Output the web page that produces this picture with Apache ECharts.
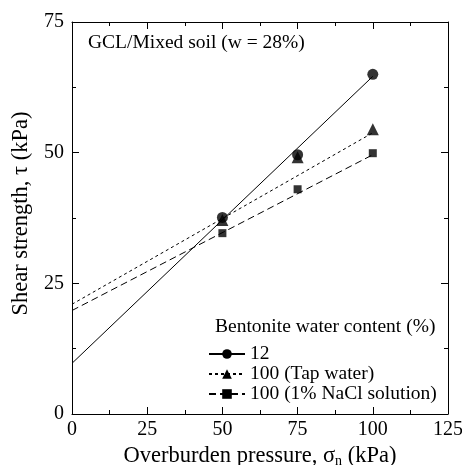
<!DOCTYPE html>
<html><head><meta charset="utf-8">
<script src="https://cdn.jsdelivr.net/npm/echarts@6/dist/echarts.min.js"></script>
<style>html,body{margin:0;padding:0;background:#fff}#c{width:462px;height:465px}</style>
</head><body><div id="c"></div>
<script>
var pressures = [50, 75, 100];
var tau12 = [37.6, 49.6, 65.0];
var tauTap = [37.1, 49.1, 54.5];
var tauNaCl = [34.6, 43.0, 49.9];
var fitX = [0, 100];
var fit12 = [9.7, 64.6];
var fitTap = [21.0, 53.8];
var fitNaCl = [19.8, 49.6];
var xTicks = [0, 25, 50, 75, 100, 125];
var yTicks = [0, 25, 50, 75];
var names = ['12', '100 (Tap water)', '100 (1% NaCl solution)'];

function pts(xs, ys){ return xs.map(function(x,i){ return [x, ys[i]]; }); }
function fitData(ys){ return fitX.map(function(x,i){ return {value:[x, ys[i]], symbol:'none'}; }); }

var FONT = 'Liberation Serif';
var chart = echarts.init(document.getElementById('c'));
var axisCommon = {
  min: 0, interval: 25,
  axisLine: {show:true, onZero:false, lineStyle:{color:'#000', width:1}},
  axisTick: {show:true, inside:true, length:7, lineStyle:{color:'#000'}},
  minorTick: {show:true, splitNumber:2, length:4, lineStyle:{color:'#000'}},
  splitLine: {show:false}
};
function ax(extra){ return Object.assign({}, JSON.parse(JSON.stringify(axisCommon)), extra); }

chart.setOption({
  animation: false,
  backgroundColor: '#fff',
  grid: {left:72, right:14, top:22, bottom:51, containLabel:false, outerBoundsMode:'none'},
  xAxis: [
    ax({type:'value', max:125, position:'bottom',
      name:'{s|Overburden pressure, σ}{sub|n}{s| (kPa)}', nameLocation:'middle', nameGap:29,
      nameTextStyle:{fontFamily:FONT, fontSize:22.5, color:'#000',
        rich:{s:{fontFamily:FONT,fontSize:22.5,color:'#000'}, sub:{fontFamily:FONT,fontSize:14,color:'#000',padding:[9,0,0,0]}}},
      axisLabel:{fontFamily:FONT, fontSize:20, color:'#000', margin:6,
        formatter:function(v){ return xTicks.indexOf(v)>=0 ? String(v) : ''; }}}),
    ax({type:'value', max:125, position:'top', axisLabel:{show:false}})
  ],
  yAxis: [
    ax({type:'value', max:75, position:'left',
      name:'Shear strength, τ (kPa)', nameLocation:'middle', nameGap:39,
      nameTextStyle:{fontFamily:FONT, fontSize:22.5, color:'#000', padding:[0,0,0,9]},
      axisLabel:{fontFamily:FONT, fontSize:20, color:'#000', margin:8,
        formatter:function(v){ return yTicks.indexOf(v)>=0 ? String(v) : ''; }}}),
    ax({type:'value', max:75, position:'right', axisLabel:{show:false}})
  ],
  legend: {
    data: names,
    orient: 'vertical',
    left: 203, top: 339,
    itemWidth: 36, itemHeight: 12, itemGap: 0,
    textStyle: {fontFamily:FONT, fontSize:19.5, color:'#000', padding:[0,0,0,0]},
    inactiveColor: '#000'
  },
  graphic: [
    {type:'text', left:88, top:33, style:{text:'GCL/Mixed soil (w = 28%)', font:'19.5px "Liberation Serif"', fill:'#000'}},
    {type:'text', left:215, top:317, style:{text:'Bentonite water content (%)', font:'19.5px "Liberation Serif"', fill:'#000'}}
  ],
  series: [
    {name:names[0], type:'line', data:fitData(fit12), symbol:'circle', symbolSize:11, itemStyle:{color:'#000'},
      lineStyle:{color:'#000', width:1, type:'solid'}},
    {name:names[1], type:'line', data:fitData(fitTap), symbol:'triangle', symbolSize:12, itemStyle:{color:'#000'},
      lineStyle:{color:'#000', width:1, type:[3,3]}},
    {name:names[2], type:'line', data:fitData(fitNaCl), symbol:'rect', symbolSize:8, itemStyle:{color:'#000'},
      lineStyle:{color:'#000', width:1, type:[7,4]}},
    {name:'p12', type:'scatter', data:pts(pressures, tau12), symbol:'circle', symbolSize:11, itemStyle:{color:'#000'}, z:3},
    {name:'pTap', type:'scatter', data:pts(pressures, tauTap), symbol:'triangle', symbolSize:12, itemStyle:{color:'#000'}, z:4},
    {name:'pNaCl', type:'scatter', data:pts(pressures, tauNaCl), symbol:'rect', symbolSize:8, itemStyle:{color:'#000'}, z:5}
  ]
});
</script></body></html>
